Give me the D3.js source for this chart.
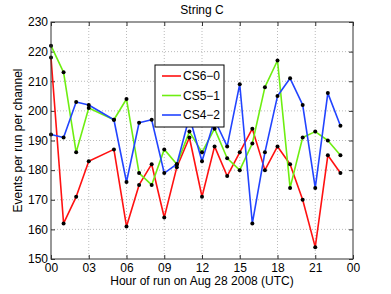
<!DOCTYPE html>
<html>
<head>
<meta charset="utf-8">
<script src="https://cdn.jsdelivr.net/npm/d3@7"></script>
<style>
  html, body { margin: 0; padding: 0; background: #fff; }
  svg { display: block; font-family: "Liberation Sans", Arial, sans-serif; }
</style>
</head>
<body>
<svg id="chart" width="391" height="294"></svg>
<script>
// ---- data ----
const hours = [0,1,2,3,5,6,7,8,9,10,11,12,13,14,15,16,17,18,19,20,21,22,23];
const cs60 = [218,162,171,183,187,161,175,182,164,181,191,171,188,178,186,194,180,188,182,170,154,185,179];
const cs51 = [222,213,186,201,197,204,179,175,187,182,193,186,194,184,180,189,208,217,174,191,193,190,185];
const cs42 = [192,191,203,202,197,176,196,197,179,182,198,183,197,188,209,162,186,205,211,202,174,206,195];
const seriesNames = ["CS6\u22120", "CS5\u22121", "CS4\u22122"];
const xTicks = [0,3,6,9,12,15,18,21,24];
const xTickLabels = ["00","03","06","09","12","15","18","21","00"];
const yTicks = [150,160,170,180,190,200,210,220,230];
const title = "String C";
const xLabel = "Hour of run on Aug 28 2008 (UTC)";
const yLabel = "Events per run per channel";

// ---- layout ----
const L = 51, R = 353, T = 22, B = 259;
const colors = ["#ff1111", "#6eee11", "#2244ff"];
const svg = d3.select("#chart");
const x = d3.scaleLinear().domain([0, 24]).range([L, R]);
const y = d3.scaleLinear().domain([150, 230]).range([B, T]);
const axisColor = "#333";

// grid
const grid = svg.append("g");
grid.selectAll("line.gx").data(xTicks.slice(1, -1)).join("line")
  .attr("x1", d => x(d)).attr("x2", d => x(d)).attr("y1", T).attr("y2", B)
  .attr("stroke", "#aaa").attr("stroke-width", 0.8).attr("stroke-dasharray", "1,2");
grid.selectAll("line.gy").data(yTicks.slice(1, -1)).join("line")
  .attr("y1", d => y(d)).attr("y2", d => y(d)).attr("x1", L).attr("x2", R)
  .attr("stroke", "#aaa").attr("stroke-width", 0.8).attr("stroke-dasharray", "1,2");

// axes (inward ticks on all sides)
const tickLen = 4;
const axB = svg.append("g").attr("transform", `translate(0,${B})`)
  .call(d3.axisBottom(x).tickValues(xTicks).tickFormat((d, i) => xTickLabels[i]).tickSizeInner(-tickLen).tickSizeOuter(0).tickPadding(4));
const axT = svg.append("g").attr("transform", `translate(0,${T})`)
  .call(d3.axisTop(x).tickValues(xTicks).tickFormat("").tickSizeInner(-tickLen).tickSizeOuter(0));
const axLft = svg.append("g").attr("transform", `translate(${L},0)`)
  .call(d3.axisLeft(y).tickValues(yTicks).tickFormat(d3.format("d")).tickSizeInner(-tickLen).tickSizeOuter(0).tickPadding(3));
const axRt = svg.append("g").attr("transform", `translate(${R},0)`)
  .call(d3.axisRight(y).tickValues(yTicks).tickFormat("").tickSizeInner(-tickLen).tickSizeOuter(0));
[axB, axT, axLft, axRt].forEach(a => {
  a.select(".domain").remove();
  a.selectAll(".tick line").attr("stroke", axisColor);
  a.selectAll("text").attr("font-size", 12).attr("fill", "#000")
    .attr("font-family", "'Liberation Sans', Arial, sans-serif");
});

// series
const data = [cs60, cs51, cs42];
const line = d3.line().x((d, i) => x(hours[i])).y(d => y(d));
const gS = svg.append("g");
data.forEach((vals, k) => {
  gS.append("path").datum(vals).attr("d", line)
    .attr("fill", "none").attr("stroke", colors[k]).attr("stroke-width", 1.6)
    .attr("stroke-linejoin", "round");
});
data.forEach((vals) => {
  gS.append("g").selectAll("circle").data(vals).join("circle")
    .attr("cx", (d, i) => x(hours[i])).attr("cy", d => y(d)).attr("r", 2).attr("fill", "#000");
});

// frame
svg.append("rect").attr("x", L).attr("y", T).attr("width", R - L).attr("height", B - T)
  .attr("fill", "none").attr("stroke", axisColor).attr("stroke-width", 1);

// title & labels
svg.append("text").attr("x", (L + R) / 2).attr("y", 14).attr("text-anchor", "middle")
  .attr("font-size", 12).text(title);
svg.append("text").attr("x", (L + R) / 2).attr("y", 285).attr("text-anchor", "middle")
  .attr("font-size", 12).text(xLabel);
svg.append("text").attr("transform", `translate(22,${(T + B) / 2}) rotate(-90)`)
  .attr("text-anchor", "middle").attr("font-size", 12).text(yLabel);

// legend
const lg = svg.append("g").attr("transform", "translate(155,65)");
lg.append("rect").attr("width", 69).attr("height", 62).attr("fill", "#fff")
  .attr("stroke", "#000").attr("stroke-width", 1);
seriesNames.forEach((name, k) => {
  const yy = 11 + k * 19.5;
  lg.append("line").attr("x1", 7).attr("x2", 26).attr("y1", yy).attr("y2", yy)
    .attr("stroke", colors[k]).attr("stroke-width", 1.6);
  lg.append("text").attr("x", 28).attr("y", yy).attr("dy", "0.36em")
    .attr("font-size", 12).text(name);
});
</script>
</body>
</html>
